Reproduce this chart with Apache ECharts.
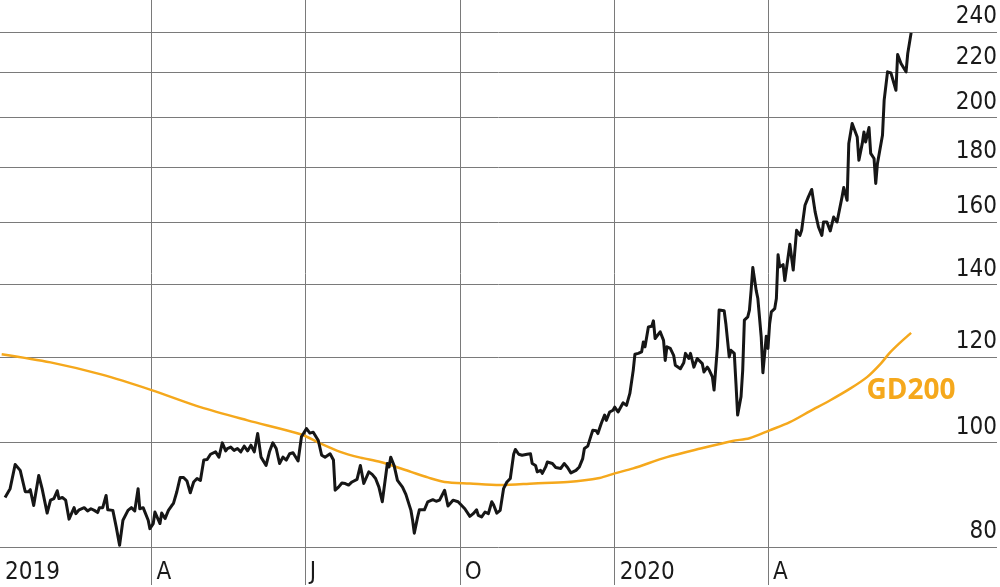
<!DOCTYPE html>
<html><head><meta charset="utf-8">
<script src="https://cdn.jsdelivr.net/npm/echarts@6/dist/echarts.min.js"></script>
<style>html,body{margin:0;padding:0;background:#fff}#c{width:1000px;height:587px}</style>
</head><body><div id="c"></div>
<script>
// x values: days since 2019-01-01
const priceDays = [
3,6,9,12,15,17,18,20,21,23,
25,26,28,30,32,34,35,37,39,41,
44,45,47,50,52,54,56,58,59,61,
63,64,67,69,71,73,76,78,80,82,
83,85,88,89,91,92,95,96,98,100,
102,103,105,107,109,111,113,115,117,119,
121,123,125,126,128,130,132,134,135,137,
139,141,143,145,147,149,151,153,155,158,
160,162,164,166,168,170,172,174,177,179,
182,184,186,189,191,193,196,198,199,201,
203,205,207,209,212,214,216,219,221,223,
225,227,230,231,232,234,236,237,239,241,
244,245,246,248,249,252,254,257,259,261,
264,266,269,272,273,276,
279,281,283,284,286,288,290,292,293,295,
297,298,299,301,303,305,306,308,310,313,
315,316,318,319,321,322,324,325,328,330,
333,335,337,339,342,344,346,347,349,351,
352,354,355,357,359,360,362,364,365,367,
368,370,372,374,376,377,379,381,382,383,
385,387,388,389,390,392,394,395,396,398,
400,401,402,404,406,407,409,410,412,414,
415,417,418,420,421,423,424,426,427,428,
430,431,433,434,436,437,438,440,441,442,
444,445,446,447,449,450,452,453,455,456,
457,458,460,461,462,463,465,466,469,471,
473,475,476,478,480,482,484,486,488,489,
491,493,495,497,498,500,501,503,504,506,
507,509,510,512,513,514,516,517,519,520,
521,524,525,527,529,530,532,533,535,538,539,541
];
const priceValues = [
88.9,90.6,95.4,94.2,90.0,90.0,90.4,87.4,87.4,93.2,
90.6,90.3,86.0,88.4,88.7,90.2,88.7,88.9,88.4,84.9,
87.0,85.9,86.6,87.0,86.4,86.8,86.5,86.1,87.0,87.0,
89.3,86.6,86.5,83.5,80.3,84.7,86.5,87.0,86.4,90.6,
86.8,87.0,84.7,83.2,84.1,86.2,84.1,86.0,85.0,86.5,
87.4,87.8,90.0,92.8,92.8,92.1,89.8,91.9,92.6,92.2,
96.3,96.4,97.5,97.1,98.0,96.9,99.9,98.2,98.7,99.0,
98.3,98.7,98.0,99.2,98.2,99.4,98.0,101.9,96.9,95.2,
98.0,99.9,98.7,95.6,96.9,96.3,97.6,97.8,96.1,101.2,
103.0,102.0,102.2,100.4,97.3,96.9,97.6,96.3,90.3,90.9,
91.7,91.6,91.3,91.9,92.4,95.2,91.6,93.9,93.4,92.6,
90.9,88.1,95.6,94.9,96.9,95.2,92.2,92.2,90.9,89.5,
86.5,84.7,82.4,85.3,86.6,86.6,88.1,88.5,88.2,88.4,
90.3,87.3,88.4,88.1,88.2,86.8,
85.4,85.9,86.6,85.6,85.3,86.2,85.9,88.1,87.6,86.0,
86.5,86.2,90.6,91.9,92.6,97.5,98.5,97.5,97.3,97.5,
97.6,95.6,95.2,93.9,94.2,93.6,94.9,95.9,95.6,94.8,
94.6,95.6,94.8,93.7,94.2,94.9,96.6,98.7,99.2,101.5,
102.6,102.5,101.9,104.1,106.0,104.8,106.7,107.1,107.8,106.7,
107.1,108.8,108.2,111.0,116.6,120.7,120.9,121.3,123.9,122.6,
127.9,128.1,129.6,124.8,125.2,126.6,124.3,119.1,122.6,122.2,
120.4,117.9,118.1,117.0,118.5,120.9,119.6,120.9,117.4,119.6,
120.0,118.3,116.2,117.4,116.8,115.0,111.8,122.6,132.6,132.1,
132.4,128.8,120.0,121.7,120.9,113.4,106.0,110.2,116.6,129.8,
130.7,132.6,138.3,145.2,138.3,135.9,125.2,116.0,125.4,122.2,
128.8,132.1,133.0,135.9,149.2,145.4,146.1,141.2,152.6,144.4,
157.2,155.5,157.2,165.8,168.8,171.5,163.5,158.3,155.5,160.0,
160.0,157.0,161.7,160.0,160.6,168.8,172.2,167.6,189.2,197.4,
197.1,191.8,182.5,189.2,193.9,189.8,195.7,185.2,183.2,173.7,
181.2,192.5,207.5,220.4,219.9,220.4,211.9,228.7,224.4,220.4,229.2,239.5
];
const gdDays = [1,30,60,90,119,147,179,190,202,214,226,244,254,264,279,297,317,337,356,365,376,396,416,435,445,457,469,481,493,505,515,523,528,534,541];
const gd200Values = [120.7,118.6,115.6,111.8,107.8,104.8,101.7,99.8,98.0,96.8,95.9,93.9,92.8,91.9,91.6,91.3,91.6,91.9,92.7,93.6,94.6,96.9,98.7,100.3,100.9,102.6,104.4,106.9,109.4,112.2,115.0,118.3,120.9,123.5,126.3];
const yTicks = [80,100,120,140,160,180,200,220,240];
const quarterDays = [0,90,181,273,365,456];
const quarterLabels = ['2019','A','J','O','2020','A'];

const FONT = "'Liberation Sans Narrow','DejaVu Sans Condensed','Roboto',sans-serif";
const GRID = '#7a7a7a';
const chart = echarts.init(document.getElementById('c'), null, {renderer:'canvas'});
chart.setOption({
  animation:false,
  backgroundColor:'#fff',
  grid:{left:-1,right:3,top:0,bottom:40,containLabel:false},
  xAxis:{
    type:'value', min:0, max:592,
    axisLine:{show:false},
    axisTick:{show:true, inside:false, length:38, customValues:quarterDays.slice(1), lineStyle:{color:GRID,width:1}},
    splitLine:{show:true, lineStyle:{color:GRID,width:1}},
    axisLabel:{customValues:quarterDays, align:'left', padding:[0,0,0,5], margin:14,
      fontSize:24, color:'#1a1a1a', fontFamily:FONT,
      formatter:function(v){const i=quarterDays.indexOf(v);return i>=0?quarterLabels[i]:'';}}
  },
  yAxis:{
    type:'log', min:80, max:256.9, position:'right',
    axisLine:{show:false}, axisTick:{show:false}, axisLabel:{show:false}, splitLine:{show:false}
  },
  series:[
    {
      name:'GD200', type:'line', z:2, symbol:'none', smooth:0.3,
      data: gdDays.map((d,i)=>[d,gd200Values[i]]),
      lineStyle:{color:'#F5A81C',width:2.5},
      endLabel:{show:true, formatter:'GD200', color:'#F5A81C', fontWeight:'bold', fontSize:28,
        fontFamily:"'Open Sans',sans-serif", align:'center', verticalAlign:'middle', distance:0, offset:[0,58]}
    },
    {
      name:'Kurs', type:'line', z:3, symbol:'none',
      data: priceDays.map((d,i)=>[d,priceValues[i]]),
      lineStyle:{color:'#161616',width:3, join:'round'},
      markLine:{
        silent:true, symbol:['none','none'], z:1,
        lineStyle:{color:GRID,width:1,type:'solid'},
        label:{position:'insideEndTop', formatter:'{c}', fontSize:24, color:'#1a1a1a', fontFamily:FONT, distance:[0,3]},
        data: yTicks.map(v=>({yAxis:v}))
      }
    }
  ]
});
</script></body></html>
